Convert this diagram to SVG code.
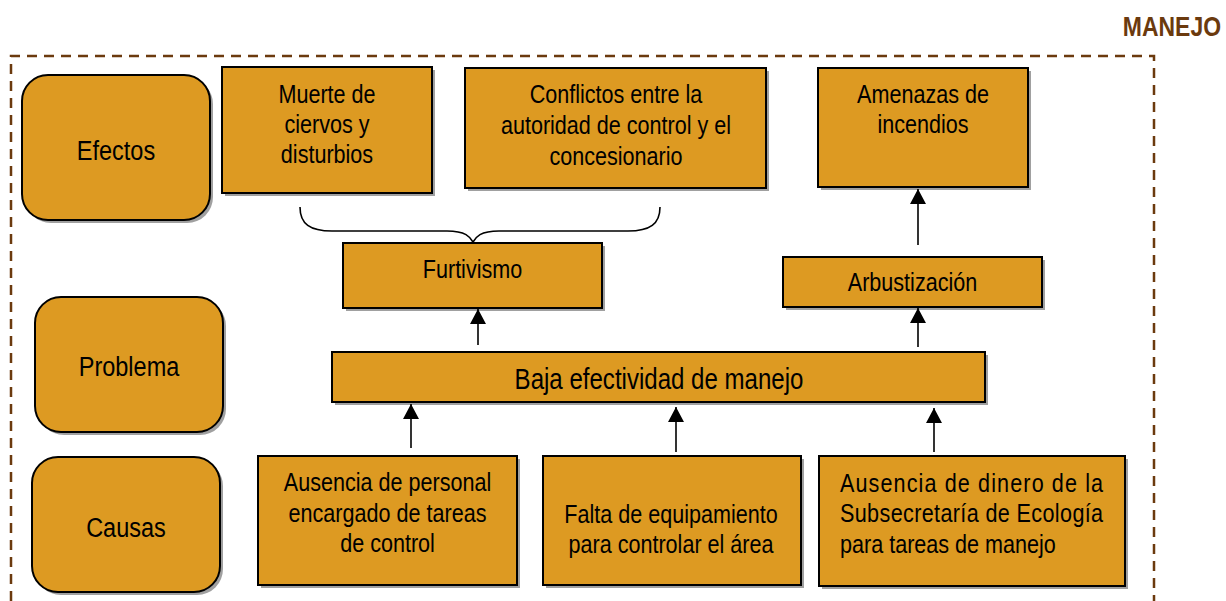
<svg xmlns="http://www.w3.org/2000/svg" width="1226" height="601" viewBox="0 0 1226 601">
<style>
.box{fill:#DD9A22;stroke:#000;stroke-width:2}
.sh{fill:#a0a0a0}
.t{font-family:"Liberation Sans",Arial,sans-serif;font-size:26px;fill:#000;text-anchor:middle}
.lab{font-size:28px}
.ttl{font-family:"Liberation Sans",Arial,sans-serif;font-size:28px;font-weight:bold;fill:#6B3A0E;text-anchor:end}
.con{stroke:#000;stroke-width:1.6;fill:none}
</style>
<defs>
<marker id="ah" markerUnits="userSpaceOnUse" markerWidth="16" markerHeight="16" viewBox="0 0 16 16" refX="15" refY="8" orient="auto">
<path d="M0,0 L15,8 L0,16 Z" fill="#000"/>
</marker>
</defs>
<rect width="1226" height="601" fill="#fff"/>
<text class="ttl" transform="translate(1221 36) scale(0.82 1)">MANEJO</text>
<path d="M11,601 L11,56 L1154,56 L1154,601" fill="none" stroke="#6B3A0E" stroke-width="2.5" stroke-dasharray="10 7"/>

<g id="efectos">
<rect class="sh" x="25" y="78" width="188" height="145" rx="26"/>
<rect class="box" x="22" y="75" width="188" height="145" rx="26"/>
<text class="t lab" transform="translate(116 160) scale(0.84 1)">Efectos</text>
</g>
<g id="problema">
<rect class="sh" x="38" y="300" width="188" height="135" rx="26"/>
<rect class="box" x="35" y="297" width="188" height="135" rx="26"/>
<text class="t lab" transform="translate(129 376) scale(0.84 1)">Problema</text>
</g>
<g id="causas">
<rect class="sh" x="35" y="460" width="188" height="135" rx="26"/>
<rect class="box" x="32" y="457" width="188" height="135" rx="26"/>
<text class="t lab" transform="translate(126 537) scale(0.84 1)">Causas</text>
</g>

<g id="muerte">
<rect class="sh" x="225" y="70" width="210" height="126"/>
<rect class="box" x="222" y="67" width="210" height="126"/>
<text class="t" transform="translate(327 103) scale(0.83 1)">Muerte de</text>
<text class="t" transform="translate(327 133) scale(0.83 1)">ciervos y</text>
<text class="t" transform="translate(327 163) scale(0.83 1)">disturbios</text>
</g>
<g id="conflictos">
<rect class="sh" x="468" y="71" width="301" height="120"/>
<rect class="box" x="465" y="68" width="301" height="120"/>
<text class="t" transform="translate(616 103) scale(0.83 1)">Conflictos entre la</text>
<text class="t" transform="translate(616 134) scale(0.83 1)">autoridad de control y el</text>
<text class="t" transform="translate(616 165) scale(0.83 1)">concesionario</text>
</g>
<g id="amenazas">
<rect class="sh" x="821" y="71" width="210" height="119"/>
<rect class="box" x="818" y="68" width="210" height="119"/>
<text class="t" transform="translate(923 103) scale(0.83 1)">Amenazas de</text>
<text class="t" transform="translate(923 133) scale(0.83 1)">incendios</text>
</g>
<g id="furtivismo">
<rect class="sh" x="346" y="246" width="259" height="65"/>
<rect class="box" x="343" y="243" width="259" height="65"/>
<text class="t" transform="translate(472.5 278) scale(0.83 1)">Furtivismo</text>
</g>
<g id="arbustizacion">
<rect class="sh" x="786" y="260" width="259" height="50"/>
<rect class="box" x="783" y="257" width="259" height="50"/>
<text class="t" transform="translate(912.5 291) scale(0.83 1)">Arbustización</text>
</g>
<g id="baja">
<rect class="sh" x="335" y="355" width="653" height="50"/>
<rect class="box" x="332" y="352" width="653" height="50"/>
<text class="t" style="font-size:29px" transform="translate(659 389) scale(0.83 1)">Baja efectividad de manejo</text>
</g>
<g id="personal">
<rect class="sh" x="261" y="459" width="259" height="129"/>
<rect class="box" x="258" y="456" width="259" height="129"/>
<text class="t" transform="translate(387.5 491) scale(0.83 1)">Ausencia de personal</text>
<text class="t" transform="translate(387.5 522) scale(0.83 1)">encargado de tareas</text>
<text class="t" transform="translate(387.5 552) scale(0.83 1)">de control</text>
</g>
<g id="equipamiento">
<rect class="sh" x="546" y="459" width="258" height="129"/>
<rect class="box" x="543" y="456" width="258" height="129"/>
<text class="t" transform="translate(671 523) scale(0.83 1)">Falta de equipamiento</text>
<text class="t" transform="translate(671 553) scale(0.83 1)">para controlar el área</text>
</g>
<g id="dinero">
<rect class="sh" x="822" y="459" width="306" height="130"/>
<rect class="box" x="819" y="456" width="306" height="130"/>
<text class="t" transform="translate(840 492) scale(0.83 1)" style="text-anchor:start" textLength="317" lengthAdjust="spacing">Ausencia de dinero de la</text>
<text class="t" transform="translate(840 522) scale(0.83 1)" style="text-anchor:start" textLength="317" lengthAdjust="spacing">Subsecretaría de Ecología</text>
<text class="t" transform="translate(840 553) scale(0.83 1)" style="text-anchor:start">para tareas de manejo</text>
</g>

<g id="connectors">
<path class="con" d="M300,207 C300,224 310,231 332,231 L447,231 C466,231 470,237 473,242 C476,237 480,231 499,231 L628,231 C650,231 660,224 660,207"/>
<line class="con" x1="478" y1="345" x2="478" y2="309" marker-end="url(#ah)"/>
<line class="con" x1="918" y1="347" x2="918" y2="308" marker-end="url(#ah)"/>
<line class="con" x1="918" y1="245" x2="918" y2="189" marker-end="url(#ah)"/>
<line class="con" x1="411" y1="448" x2="411" y2="404" marker-end="url(#ah)"/>
<line class="con" x1="676" y1="452" x2="676" y2="407" marker-end="url(#ah)"/>
<line class="con" x1="934" y1="452" x2="934" y2="408" marker-end="url(#ah)"/>
</g>
</svg>
